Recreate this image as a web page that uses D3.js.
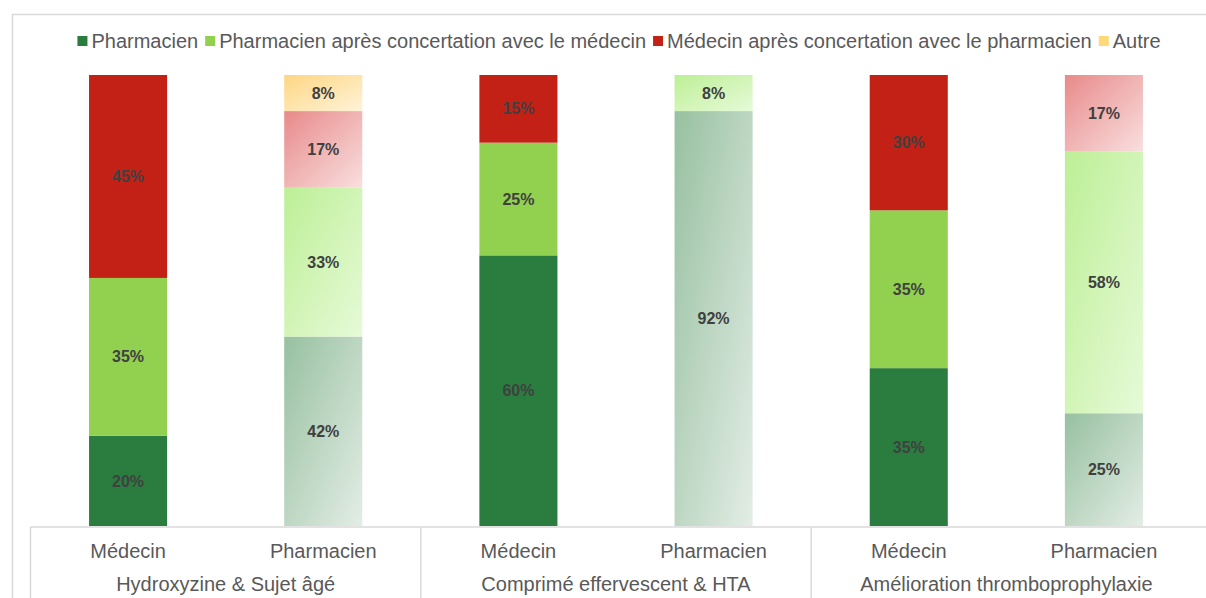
<!DOCTYPE html>
<html>
<head>
<meta charset="utf-8">
<script src="https://cdn.jsdelivr.net/npm/d3@7"></script>
<style>
  body { margin: 0; background: #fff; }
  svg { display: block; font-family: "Liberation Sans", Arial, Helvetica, sans-serif; }
</style>
</head>
<body>
<svg width="1206" height="598"></svg>
<script>
// data
var groups = ["Hydroxyzine & Sujet âgé", "Comprimé effervescent & HTA", "Amélioration thromboprophylaxie"];
var roles = ["Médecin", "Pharmacien"];
var series = ["Pharmacien", "Pharmacien après concertation avec le médecin", "Médecin après concertation avec le pharmacien", "Autre"];
// one value per bar, order: H-Méd, H-Pharm, C-Méd, C-Pharm, A-Méd, A-Pharm
var pharmacien      = [20, 42, 60, 92, 35, 25];
var pharmApres      = [35, 33, 25, 8, 35, 58];
var medecinApres    = [45, 17, 15, 0, 30, 17];
var autre           = [0, 8, 0, 0, 0, 0];

var solid = ["#2a7d3f", "#92d050", "#c42116", "#ffd978"];
var grad = [["#97c0a0", "#e3ede5"], ["#bdef96", "#e6fad8"], ["#e88a8a", "#f9dfdf"], ["#fdd683", "#fff3d8"]];

var svg = d3.select("svg");
var defs = svg.append("defs");
grad.forEach(function(g, i) {
  var lg = defs.append("linearGradient").attr("id", "g" + i)
    .attr("x1", "0").attr("y1", "0").attr("x2", "1").attr("y2", "1");
  lg.append("stop").attr("offset", "0").attr("stop-color", g[0]);
  lg.append("stop").attr("offset", "1").attr("stop-color", g[1]);
});

// outer frame
svg.append("rect").attr("x", 12.5).attr("y", 14.5).attr("width", 1220).attr("height", 600)
  .attr("fill", "none").attr("stroke", "#d9d9d9").attr("stroke-width", 1.5);

var bars = [];
groups.forEach(function(g, gi) {
  roles.forEach(function(r, ri) { bars.push({ group: g, role: r, key: gi * 2 + ri }); });
});

var x = d3.scaleBand().domain(bars.map(function(d) { return d.key; }))
  .range([30.5, 1201.5]).paddingInner(0.6).paddingOuter(0.3);
var y = d3.scaleLinear().domain([0, 100]).range([526, 75]);

var values = [pharmacien, pharmApres, medecinApres, autre];
var rows = bars.map(function(b, i) {
  var o = { key: b.key };
  series.forEach(function(s, si) { o[si] = values[si][i]; });
  return o;
});
var stack = d3.stack().keys([0, 1, 2, 3])(rows);

stack.forEach(function(layer, si) {
  var g = svg.append("g");
  layer.forEach(function(d, i) {
    var v = d[1] - d[0];
    if (v <= 0) return;
    var isPharm = bars[i].key % 2 == 1;
    g.append("rect")
      .attr("x", x(bars[i].key))
      .attr("y", y(d[1]))
      .attr("width", x.bandwidth())
      .attr("height", y(d[0]) - y(d[1]))
      .attr("fill", isPharm ? "url(#g" + si + ")" : solid[si]);
    g.append("text")
      .attr("x", x(bars[i].key) + x.bandwidth() / 2)
      .attr("y", (y(d[0]) + y(d[1])) / 2)
      .attr("dy", "0.35em")
      .attr("text-anchor", "middle")
      .attr("font-size", 16).attr("font-weight", "bold")
      .attr("fill", "#404040")
      .text(v + "%");
  });
});

// category axis
var axis = svg.append("g").attr("stroke", "#d9d9d9").attr("stroke-width", 1.5);
axis.append("line").attr("x1", 30.5).attr("x2", 1220).attr("y1", 527).attr("y2", 527);
[0, 1, 2].forEach(function(k) {
  var xx = x(k * 2) - x.step() * 0.3;
  axis.append("line").attr("x1", xx).attr("x2", xx).attr("y1", 527).attr("y2", 598);
});

svg.append("g").selectAll("text").data(bars).enter().append("text")
  .attr("x", function(d) { return x(d.key) + x.bandwidth() / 2; })
  .attr("y", 558)
  .attr("text-anchor", "middle").attr("font-size", 20).attr("fill", "#595959")
  .text(function(d) { return d.role; });

svg.append("g").selectAll("text").data(groups).enter().append("text")
  .attr("x", function(d, i) { return (x(i * 2) + x(i * 2 + 1) + x.bandwidth()) / 2; })
  .attr("y", 591)
  .attr("text-anchor", "middle").attr("font-size", 20).attr("fill", "#595959")
  .text(function(d) { return d; });

// legend
var legend = svg.append("g");
var lx = 0;
series.forEach(function(s, i) {
  var item = legend.append("g").attr("transform", "translate(" + lx + ",0)");
  item.append("rect").attr("x", 0).attr("y", -12).attr("width", 10).attr("height", 10)
    .attr("fill", solid[i]);
  var t = item.append("text").attr("x", 14).attr("y", 0)
    .attr("font-size", 20).attr("fill", "#595959").text(s);
  lx += 14 + t.node().getComputedTextLength() + 7;
});
var lw = lx - 7;
legend.attr("transform", "translate(" + (619 - lw / 2) + ",48)");
</script>
</body>
</html>
